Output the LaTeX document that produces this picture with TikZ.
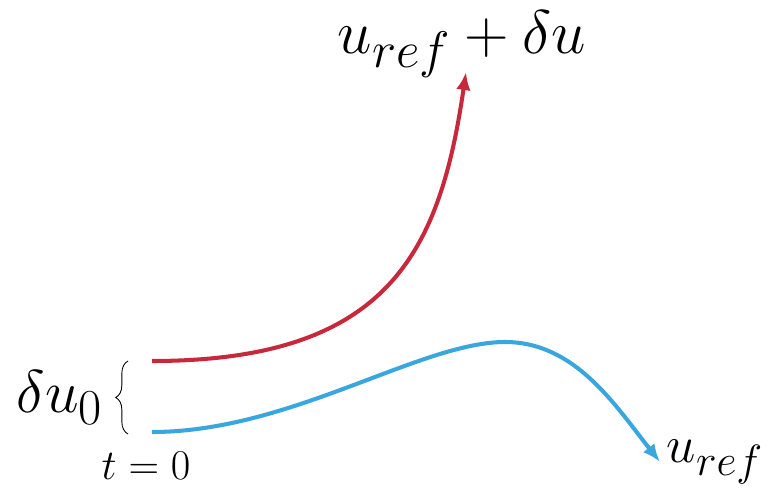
\documentclass[tikz,border=0pt]{standalone}
\usepackage{amsmath,amssymb}
\usetikzlibrary{arrows.meta,positioning,calc,decorations.pathreplacing}
\definecolor{pert}{HTML}{C8283C}
\definecolor{refc}{HTML}{3AA6DE}

\begin{document}
\begin{tikzpicture}[x=0.2mm,y=-0.2mm,
    traj/.style={line width=2.3pt,-{Latex[length=3.6mm,width=2.9mm]}},
    lbl/.style={inner sep=0pt,font=\Huge}]
  \useasboundingbox (0,0) rectangle (768,493);
  \coordinate (r0) at (152,361);
  \coordinate (r1) at (466,72);
  \coordinate (b0) at (152,432);
  \coordinate (bp) at (505,342);
  \coordinate (b1) at (660,462);
  % perturbed and reference trajectories
  \draw[traj,pert] (r0) .. controls (390,361) and (440,250) .. (r1);
  \draw[traj,refc] (b0) .. controls (290,432) and (420,342) .. (bp)
                        .. controls (575,342) and (615,405) .. (b1);
  \draw[decorate,decoration={brace,amplitude=7pt,mirror},line width=0.5pt]
    (128,361) -- coordinate[left=8pt] (bm) (128,434);
  \node[lbl] (top) at (462,44) {\scalebox{1.41}{$u_{ref}+\delta u$}};
  \node[lbl,left=6pt of bm] (du) {\scalebox{1.38}{$\delta u_0$}};
  \node[lbl] (t0) at (146,466) {\scalebox{0.97}{$t=0$}};
  \node[lbl] (uref) at (715,462) {\scalebox{1.2}{$u_{ref}$}};
\end{tikzpicture}
\end{document}
